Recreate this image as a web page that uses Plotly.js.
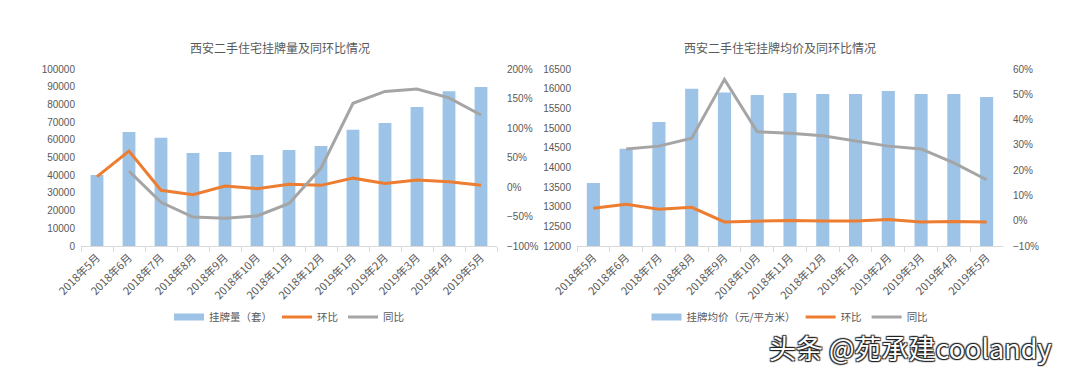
<!DOCTYPE html>
<html><head><meta charset="utf-8">
<script src="https://cdn.plot.ly/plotly-3.0.1.min.js"></script>
<style>html,body{margin:0;padding:0;background:#fff;}#chart{width:1066px;height:372px;}</style>
</head><body><div id="chart"></div>
<script>
const months = ["2018年5月","2018年6月","2018年7月","2018年8月","2018年9月","2018年10月","2018年11月","2018年12月","2019年1月","2019年2月","2019年3月","2019年4月","2019年5月"];
// Left chart: listing volume
const listings = [40100, 64400, 61200, 52500, 53100, 51400, 54200, 56500, 65700, 69500, 78500, 87400, 89800];
const listingsMoM = [17.5, 61, -5.6, -13, 1.7, -2.8, 4.5, 2.8, 15, 6, 12, 9, 2.8];
const listingsYoY = [null, 27, -26, -51, -53, -49, -28, 32, 142, 162, 166, 151, 122];
// Right chart: average listing price
const price = [13600, 14470, 15150, 16000, 15900, 15840, 15890, 15865, 15865, 15940, 15865, 15865, 15790];
const priceMoM = [4.9, 6.5, 4.5, 5.3, -0.5, -0.3, 0.1, -0.1, -0.1, 0.5, -0.5, -0.3, -0.5];
const priceYoY = [null, 28.4, 29.5, 32.6, 55.9, 35.2, 34.6, 33.6, 31.6, 29.5, 28.4, 22.9, 16.2];

const W = 1066, H = 372;
const px = v => v / W, py = v => 1 - v / H;
const FONT = "Liberation Sans, Arial, Noto Sans CJK SC, sans-serif";
const CJK = "Noto Sans CJK SC, sans-serif";
const GREY = "#595959";
const BLUE = "#9DC3E6", ORANGE = "#ED7D31", GRAY = "#A5A5A5";

const traces = [
  {type:"bar", x: months, y: listings, name:"挂牌量（套）", marker:{color:BLUE}, xaxis:"x", yaxis:"y", showlegend:false},
  {type:"scatter", mode:"lines", x:[null], y:[null], name:"挂牌量（套）", line:{color:BLUE, width:7}, xaxis:"x", yaxis:"y", legend:"legend"},
  {type:"scatter", mode:"lines", x: months, y: listingsMoM, name:"环比", line:{color:ORANGE, width:3}, xaxis:"x", yaxis:"y2", legend:"legend"},
  {type:"scatter", mode:"lines", x: months, y: listingsYoY, name:"同比", line:{color:GRAY, width:3}, xaxis:"x", yaxis:"y2", legend:"legend"},
  {type:"bar", x: months, y: price, name:"挂牌均价（元/平方米）", marker:{color:BLUE}, xaxis:"x2", yaxis:"y3", showlegend:false},
  {type:"scatter", mode:"lines", x:[null], y:[null], name:"挂牌均价（元/平方米）", line:{color:BLUE, width:7}, xaxis:"x2", yaxis:"y3", legend:"legend2"},
  {type:"scatter", mode:"lines", x: months, y: priceMoM, name:"环比", line:{color:ORANGE, width:3}, xaxis:"x2", yaxis:"y4", legend:"legend2"},
  {type:"scatter", mode:"lines", x: months, y: priceYoY, name:"同比", line:{color:GRAY, width:3}, xaxis:"x2", yaxis:"y4", legend:"legend2"}
];

const yDom = [py(246), py(69)];
const xCommon = {
  type:"category", showgrid:false, showline:true, linecolor:"#D9D9D9", linewidth:1,
  ticks:"outside", tickson:"boundaries", ticklen:5, tickcolor:"#D9D9D9",
  tickangle:-45, tickfont:{family:CJK, size:11, color:GREY}, automargin:false, fixedrange:true
};
const yCommon = {showgrid:false, zeroline:false, showline:false, ticks:"", tickfont:{family:FONT, size:10, color:GREY}, automargin:false, fixedrange:true, ticklabelstandoff:5};

const layout = {
  width: W, height: H,
  margin:{l:0, r:0, t:0, b:0},
  paper_bgcolor:"#fff", plot_bgcolor:"rgba(0,0,0,0)",
  barmode:"overlay", bargap:0.6,
  font:{family:FONT, color:GREY},
  xaxis: Object.assign({}, xCommon, {domain:[px(81), px(497)], anchor:"y"}),
  xaxis2: Object.assign({}, xCommon, {domain:[px(577), px(1003)], anchor:"y3"}),
  yaxis: Object.assign({}, yCommon, {domain:yDom, anchor:"x", range:[0,100000], dtick:10000, tickformat:"d"}),
  yaxis2: Object.assign({}, yCommon, {overlaying:"y", side:"right", anchor:"x", range:[-100,200], dtick:50, ticksuffix:"%", ticklabelstandoff:9}),
  yaxis3: Object.assign({}, yCommon, {domain:yDom, anchor:"x2", range:[12000,16500], dtick:500, tickformat:"d"}),
  yaxis4: Object.assign({}, yCommon, {overlaying:"y3", side:"right", anchor:"x2", range:[-10,60], dtick:10, ticksuffix:"%", ticklabelstandoff:9}),
  showlegend:true,
  legend:{orientation:"h", x:px(289), xanchor:"center", y:py(317), yanchor:"middle", font:{family:CJK, size:10.5, color:GREY}, itemwidth:30, bgcolor:"rgba(0,0,0,0)", traceorder:"normal"},
  legend2:{orientation:"h", x:px(790), xanchor:"center", y:py(317), yanchor:"middle", font:{family:CJK, size:10.5, color:GREY}, itemwidth:30, bgcolor:"rgba(0,0,0,0)", traceorder:"normal"},
  annotations:[
    {text:"西安二手住宅挂牌量及同环比情况", xref:"paper", yref:"paper", x:px(280), y:py(47), xanchor:"center", yanchor:"middle", showarrow:false, font:{family:CJK, size:12, color:GREY}},
    {text:"西安二手住宅挂牌均价及同环比情况", xref:"paper", yref:"paper", x:px(780), y:py(47), xanchor:"center", yanchor:"middle", showarrow:false, font:{family:CJK, size:12, color:GREY}},
    {text:"头条 @苑承建coolandy", xref:"paper", yref:"paper", x:px(910), y:py(347), xanchor:"center", yanchor:"middle", showarrow:false,
     font:{family:CJK, size:27, color:"#ffffff", shadow:"1px 1px 1px #222, -1px -1px 1px #222, 1px -1px 1px #222, -1px 1px 1px #222"}}
  ]
};

Plotly.newPlot("chart", traces, layout, {staticPlot:true, displayModeBar:false});
</script></body></html>
